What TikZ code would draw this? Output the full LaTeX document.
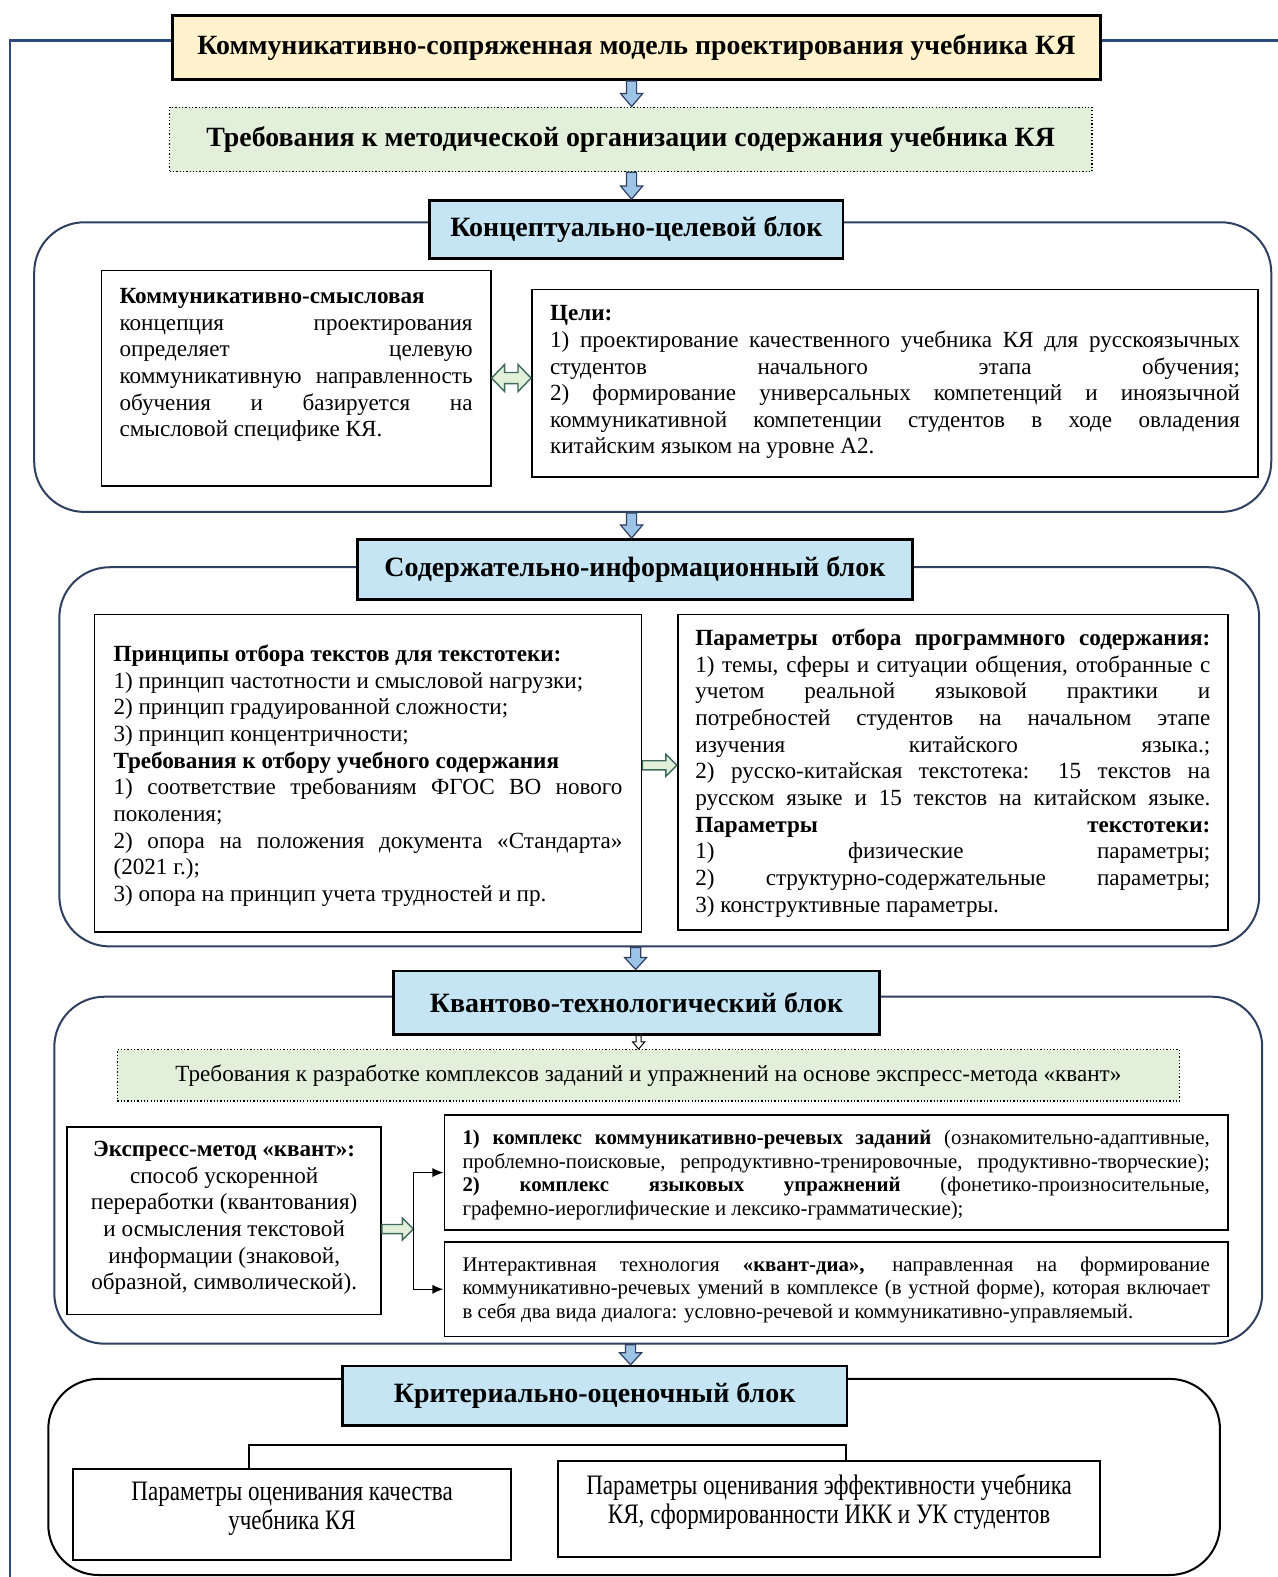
\documentclass[tikz,border=0pt]{standalone}
\usepackage{fontspec}
\setmainfont{Liberation Serif}
\newfontfamily\condfont{Liberation Serif}[FakeStretch=0.82]
\usetikzlibrary{arrows.meta,calc}
\definecolor{ttl}{HTML}{FFF2CC}
\definecolor{grn}{HTML}{E2EFDA}
\definecolor{hdr}{HTML}{C5E5F5}
\definecolor{navy}{HTML}{2F3F5F}
\definecolor{lineblue}{HTML}{2E4A7D}
\definecolor{arrblue}{HTML}{9DC3E6}
\definecolor{arrgrn}{HTML}{E2F0D9}
\definecolor{arrgrnd}{HTML}{3F6A5E}
\newcommand\boxtext[4]{\parbox[c][#1][t]{#2}{\vspace*{\dimexpr#3-0.7\baselineskip\relax}\strut#4}}
\newcommand\jl[1]{\makebox[\linewidth][s]{#1}}
\newcommand\vblk[6]{\draw[#1] let \p1=(#2), \p2=(#3) in
 (\x1-#4,\y1) -- (\x1-#4,\y2+#6) -- (\x1-#5,\y2+#6) -- (\x1,\y2) -- (\x1+#5,\y2+#6) -- (\x1+#4,\y2+#6) -- (\x1+#4,\y1) -- cycle;}
\newcommand\hblk[6]{\draw[#1] let \p1=(#2), \p2=(#3) in
 (\x1,\y1+#4) -- (\x2-#6,\y1+#4) -- (\x2-#6,\y1+#5) -- (\x2,\y1) -- (\x2-#6,\y1-#5) -- (\x2-#6,\y1-#4) -- (\x1,\y1-#4) -- cycle;}
\newcommand\dblk[6]{\draw[#1] let \p1=(#2), \p2=(#3) in
 (\x1,\y1) -- (\x1+#6,\y1+#5) -- (\x1+#6,\y1+#4) -- (\x2-#6,\y1+#4) -- (\x2-#6,\y1+#5) -- (\x2,\y1) -- (\x2-#6,\y1-#5) -- (\x2-#6,\y1-#4) -- (\x1+#6,\y1-#4) -- (\x1+#6,\y1-#5) -- cycle;}
\begin{document}
\begin{tikzpicture}[x=1pt,y=-1pt,
  body/.style={font=\fontsize{23}{26.5}\selectfont},
  small/.style={font=\fontsize{20.7}{23.5}\selectfont},
  box/.style={draw=black, line width=1.8pt, inner sep=0pt, anchor=north west, fill=white},
  hdrbox/.style={draw=black, line width=2.6pt, fill=hdr, anchor=north west, inner sep=0pt,
     font=\fontsize{27.8}{30}\selectfont\bfseries},
  cont/.style={draw=navy, line width=2pt, rounded corners=50pt, anchor=north west, inner sep=0pt},
  blueline/.style={draw=lineblue, line width=2.2pt},
  blkarrow/.style={fill=arrblue, draw=navy, line width=1.2pt},
  grnarrow/.style={fill=arrgrn, draw=arrgrnd, line width=1.4pt},
  brarrow/.style={draw=black, line width=1.3pt, -{Latex[length=11pt,width=9pt]}}]
\useasboundingbox (0,0) rectangle (1270,1568);
\coordinate (ax) at (628,0);
% top
\node[draw=black, line width=2.6pt, fill=ttl, anchor=north west, inner sep=0pt,
  minimum width=923pt, minimum height=64pt, font=\fontsize{27.7}{30}\selectfont\bfseries]
  (title) at (170,14) {Коммуникативно-сопряженная модель проектирования учебника КЯ};
\draw[blueline] ([yshift=7pt]title.west) -| (10,1568);
\draw[blueline] ([yshift=7pt]title.east) -- ++(177,0);
\node[draw=black, line width=1.3pt, dotted, fill=grn, anchor=north west, inner sep=0pt,
  minimum width=917pt, minimum height=64pt, font=\fontsize{27.7}{30}\selectfont\bfseries]
  (req) at (168,106) {Требования к методической организации содержания учебника КЯ};
% block 1
\node[cont, minimum width=1230pt, minimum height=288pt] (cont1) at (33,220) {};
\node[hdrbox, minimum width=411pt, minimum height=58pt] (h1) at (426,198) {Концептуально-целевой блок};
\node[box, body, inner xsep=18pt] (c1l) at (100,268) {\boxtext{214pt}{351pt}{33pt}{%
\textbf{Коммуникативно-смысловая}\\
\jl{концепция проектирования}\\
\jl{определяет целевую}\\
\jl{коммуникативную направленность}\\
\jl{обучения и базируется на}\\
смысловой специфике КЯ.}};
\node[box, body, inner xsep=18pt] (c1r) at (528,287) {\boxtext{186pt}{686pt}{31pt}{%
\textbf{Цели:}\\
\jl{1) проектирование качественного учебника КЯ для русскоязычных}\\
\jl{студентов начального этапа обучения;}\\
\jl{2) формирование универсальных компетенций и иноязычной}\\
\jl{коммуникативной компетенции студентов в ходе овладения}\\
китайским языком на уровне А2.}};
\dblk{grnarrow}{c1l.east}{c1r.west}{5.5pt}{13.5pt}{13pt}
% block 2
\node[cont, minimum width=1193pt, minimum height=377pt] (cont2) at (58,563) {};
\node[hdrbox, minimum width=552pt, minimum height=60pt] (h2) at (354,535) {Содержательно-информационный блок};
\node[box, body, inner xsep=19pt] (b2l) at (93,610) {\boxtext{316pt}{506pt}{47pt}{%
\textbf{Принципы отбора текстов для текстотеки:}\\
1) принцип частотности и смысловой нагрузки;\\
2) принцип градуированной сложности;\\
3) принцип концентричности;\\
\textbf{Требования к отбору учебного содержания}\\
\jl{1) соответствие требованиям ФГОС ВО нового}\\
поколения;\\
\jl{2) опора на положения документа «Стандарта»}\\
(2021 г.);\\
3) опора на принцип учета трудностей и пр.}};
\node[box, body, inner xsep=17.5pt] (b2r) at (673,610) {\boxtext{314pt}{512pt}{31pt}{%
\jl{\textbf{Параметры отбора программного содержания:}}\\
\jl{1) темы, сферы и ситуации общения, отобранные с}\\
\jl{учетом реальной языковой практики и}\\
\jl{потребностей студентов на начальном этапе}\\
\jl{изучения китайского языка.;}\\
\jl{2) русско-китайская текстотека: 15 текстов на}\\
\jl{русском языке и 15 текстов на китайском языке.}\\
\jl{\textbf{Параметры} \textbf{текстотеки:}}\\
\jl{1) физические параметры;}\\
\jl{2) структурно-содержательные параметры;}\\
3) конструктивные параметры.}};
\hblk{grnarrow}{[yshift=8pt]b2l.east}{[yshift=8pt]b2r.west}{4.5pt}{11pt}{11pt}
% block 3
\node[cont, minimum width=1201pt, minimum height=345pt] (cont3) at (53,990) {};
\node[hdrbox, minimum width=483pt, minimum height=63pt] (h3) at (390,964) {Квантово-технологический блок};
\node[draw=black, line width=1.3pt, dotted, fill=grn, anchor=north west, inner sep=0pt,
  minimum width=1056pt, minimum height=51pt, body]
  (req3) at (116,1043) {Требования к разработке комплексов заданий и упражнений на основе экспресс-метода «квант»};
\node[box, body, inner xsep=8pt] (l3) at (66,1120) {\boxtext{186pt}{296pt}{29pt}{\centering
\textbf{Экспресс-метод «квант»:}\\
способ ускоренной\\
переработки (квантования)\\
и осмысления текстовой\\
информации (знаковой,\\
образной, символической).}};
\node[box, small, inner xsep=18pt] (r31) at (441,1108) {\boxtext{114pt}{743pt}{29pt}{%
\jl{\textbf{1) комплекс коммуникативно-речевых заданий} (ознакомительно-адаптивные,}\\
\jl{проблемно-поисковые, репродуктивно-тренировочные, продуктивно-творческие);}\\
\jl{\textbf{2) комплекс языковых упражнений} (фонетико-произносительные,}\\
графемно-иероглифические и лексико-грамматические);}};
\node[box, small, inner xsep=18pt] (r32) at (441,1234) {\boxtext{94pt}{743pt}{29pt}{%
\jl{Интерактивная технология \textbf{«квант-диа»,} направленная на формирование}\\
\jl{коммуникативно-речевых умений в комплексе (в устной форме), которая включает}\\
в себя два вида диалога: условно-речевой и коммуникативно-управляемый.}};
\coordinate (brk) at (411,1222);
\hblk{grnarrow}{l3.east |- brk}{brk}{4.5pt}{11pt}{11pt}
\draw[brarrow] (brk) |- (r31.west);
\draw[brarrow] (brk) |- (r32.west);
\vblk{fill=white, draw=black, line width=1pt}{h3.south -| 635,0}{req3.north -| 635,0}{2.5pt}{6pt}{7pt}
% block 4
\node[cont, draw=black, minimum width=1165pt, minimum height=195pt] (cont4) at (47,1370) {};
\node[hdrbox, minimum width=502pt, minimum height=59pt] (h4) at (339,1357) {Критериально-оценочный блок};
\node[box, inner sep=0pt, font=\condfont\fontsize{28}{27}\selectfont] (k4l) at (72,1460)
  {\boxtext{90pt}{435pt}{31pt}{\centering Параметры оценивания качества\\ учебника КЯ}};
\node[box, inner sep=0pt, font=\condfont\fontsize{28}{27}\selectfont] (k4r) at (554,1452)
  {\boxtext{95pt}{539pt}{32pt}{\centering Параметры оценивания эффективности учебника\\ КЯ, сформированности ИКК и УК студентов}};
\draw[black, line width=2pt] ([xshift=176pt]k4l.north west) -- ++(0,-23) -| ([xshift=287pt]k4r.north west);
% down arrows
\vblk{blkarrow}{title.south -| ax}{req.north -| ax}{5pt}{11pt}{13pt}
\vblk{blkarrow}{req.south -| ax}{h1.north -| ax}{5pt}{11pt}{13pt}
\vblk{blkarrow}{cont1.south -| ax}{h2.north -| ax}{5pt}{11pt}{13pt}
\vblk{blkarrow}{cont2.south -| 632,0}{h3.north -| 632,0}{5pt}{11pt}{12pt}
\vblk{blkarrow}{cont3.south -| 627,0}{h4.north -| 627,0}{5pt}{11pt}{12pt}
\end{tikzpicture}
\end{document}
